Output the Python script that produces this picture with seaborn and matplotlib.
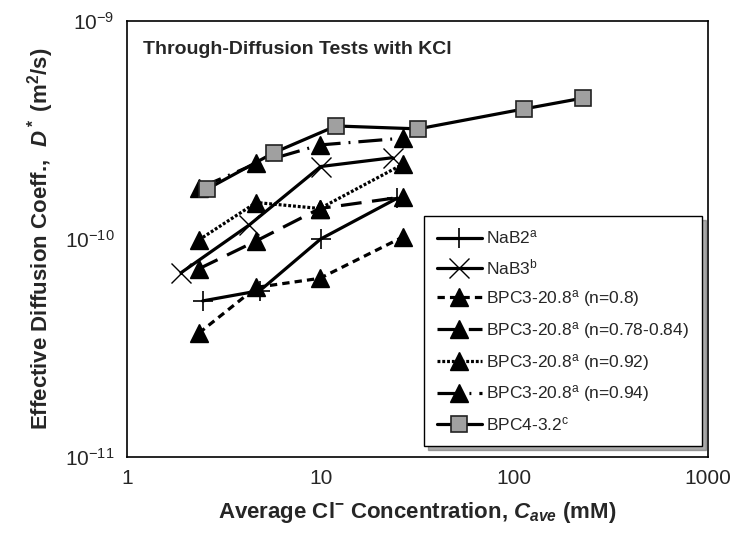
import numpy as np
import pandas as pd
import matplotlib
matplotlib.use("Agg")
import matplotlib.pyplot as plt
import seaborn as sns

# ---- data ----
nab2_x = [2.46, 4.86, 10.0, 24.9]
nab2_y = [5.2e-11, 5.8e-11, 1.0e-10, 1.54e-10]

nab3_x = [1.90, 4.28, 10.0, 23.5]
nab3_y = [7.0e-11, 1.16e-10, 2.15e-10, 2.36e-10]

bpc3_08_x = [2.35, 4.65, 9.9, 26.5]
bpc3_08_y = [3.7e-11, 6.0e-11, 6.6e-11, 1.02e-10]

bpc3_078_x = [2.35, 4.65, 9.9, 26.5]
bpc3_078_y = [7.3e-11, 9.8e-11, 1.38e-10, 1.56e-10]

bpc3_092_x = [2.35, 4.65, 9.9, 26.5]
bpc3_092_y = [9.9e-11, 1.47e-10, 1.38e-10, 2.2e-10]

bpc3_094_x = [2.35, 4.65, 9.9, 26.5]
bpc3_094_y = [1.71e-10, 2.22e-10, 2.70e-10, 2.90e-10]

bpc4_x = [2.58, 5.74, 12.0, 31.9, 112.0, 226.0]
bpc4_y = [1.69e-10, 2.49e-10, 3.30e-10, 3.20e-10, 3.95e-10, 4.43e-10]

labels = [
    r"NaB2$^{\mathregular{a}}$",
    r"NaB3$^{\mathregular{b}}$",
    r"BPC3-20.8$^{\mathregular{a}}$ (n=0.8)",
    r"BPC3-20.8$^{\mathregular{a}}$ (n=0.78-0.84)",
    r"BPC3-20.8$^{\mathregular{a}}$ (n=0.92)",
    r"BPC3-20.8$^{\mathregular{a}}$ (n=0.94)",
    r"BPC4-3.2$^{\mathregular{c}}$",
]
title_text = "Through-Diffusion Tests with KCl"
xticks = [1, 10, 100, 1000]
xticklabels = ["1", "10", "100", "1000"]
yticks = [1e-11, 1e-10, 1e-9]
yticklabels = [r"$\mathregular{10^{-11}}$", r"$\mathregular{10^{-10}}$", r"$\mathregular{10^{-9}}$"]

sns.set_style("white")
plt.rcParams["font.family"] = ["Liberation Sans", "DejaVu Sans"]
plt.rcParams["mathtext.fontset"] = "custom"
plt.rcParams["mathtext.rm"] = "Liberation Sans:bold"
plt.rcParams["mathtext.it"] = "Liberation Sans:bold:italic"
plt.rcParams["mathtext.bf"] = "Liberation Sans:bold"

fig = plt.figure(figsize=(7.4, 5.46), dpi=100)
ax = fig.add_axes([127/740, 1-457/546, (708-127)/740, (457-21)/546])

series = [
    (nab2_x, nab2_y, dict(marker="+", ms=15, mew=1.2), None),
    (nab3_x, nab3_y, dict(marker="x", ms=15, mew=1.0), None),
    (bpc3_08_x, bpc3_08_y, dict(marker="^", ms=13), (2.3, 1.6)),
    (bpc3_078_x, bpc3_078_y, dict(marker="^", ms=13), (6.5, 3.3)),
    (bpc3_092_x, bpc3_092_y, dict(marker="^", ms=13), (0.9, 0.6)),
    (bpc3_094_x, bpc3_094_y, dict(marker="^", ms=13), (7.5, 2.5, 0.6, 2.5)),
    (bpc4_x, bpc4_y, dict(marker="s", ms=11.5, mfc="#a0a0a0", mec="#222222", mew=1.2), None),
]

handles = []
for (xs, ys, st, dash), lab in zip(series, labels):
    df = pd.DataFrame({"x": xs, "y": ys})
    n_before = len(ax.lines)
    sns.lineplot(data=df, x="x", y="y", ax=ax, color="black", lw=2.3,
                 estimator=None, sort=False, legend=False)
    ln = ax.lines[n_before]
    ln.set_marker(st["marker"])
    ln.set_markersize(st["ms"])
    ln.set_markerfacecolor(st.get("mfc", "black"))
    ln.set_markeredgecolor(st.get("mec", "black"))
    ln.set_markeredgewidth(st.get("mew", 1.0))
    if dash is not None:
        ln.set_dashes(dash)
    ln.set_label(lab)
    handles.append(ln)

ax.set_xscale("log")
ax.set_yscale("log")
ax.set_xlim(1, 1000)
ax.set_ylim(1e-11, 1e-9)
ax.set_xticks(xticks)
ax.set_xticklabels(xticklabels)
ax.set_yticks(yticks)
ax.set_yticklabels(yticklabels)
ax.minorticks_off()
ax.tick_params(axis="both", which="major", direction="in", length=7, width=1,
               labelsize=15, pad=9, color="black")
for s in ax.spines.values():
    s.set_color("black")
    s.set_linewidth(1.2)

ax.set_xlabel(r"Average Cl$^{\mathregular{-}}$ Concentration, $C_{ave}$ (mM)",
              fontsize=16, fontweight="bold", labelpad=8)
ax.set_ylabel(r"Effective Diffusion Coeff.,  $D^*$ (m$^2$/s)",
              fontsize=16, fontweight="bold", labelpad=6)

ax.text(0.028, 0.935, title_text, transform=ax.transAxes, fontsize=14,
        fontweight="bold", va="center", ha="left")

leg = ax.legend(handles=handles, loc="lower right", bbox_to_anchor=(0.99, 0.025),
                fontsize=12.5, frameon=True, fancybox=False,
                shadow={"ox": 3, "oy": -3, "color": "0.35"},
                handlelength=2.6, labelspacing=0.62, borderpad=0.75, handletextpad=0.25,
                borderaxespad=0)
leg.get_frame().set_edgecolor("black")
leg.get_frame().set_linewidth(1.0)
leg.get_frame().set_alpha(1)

fig.savefig("out.png", dpi=100)
